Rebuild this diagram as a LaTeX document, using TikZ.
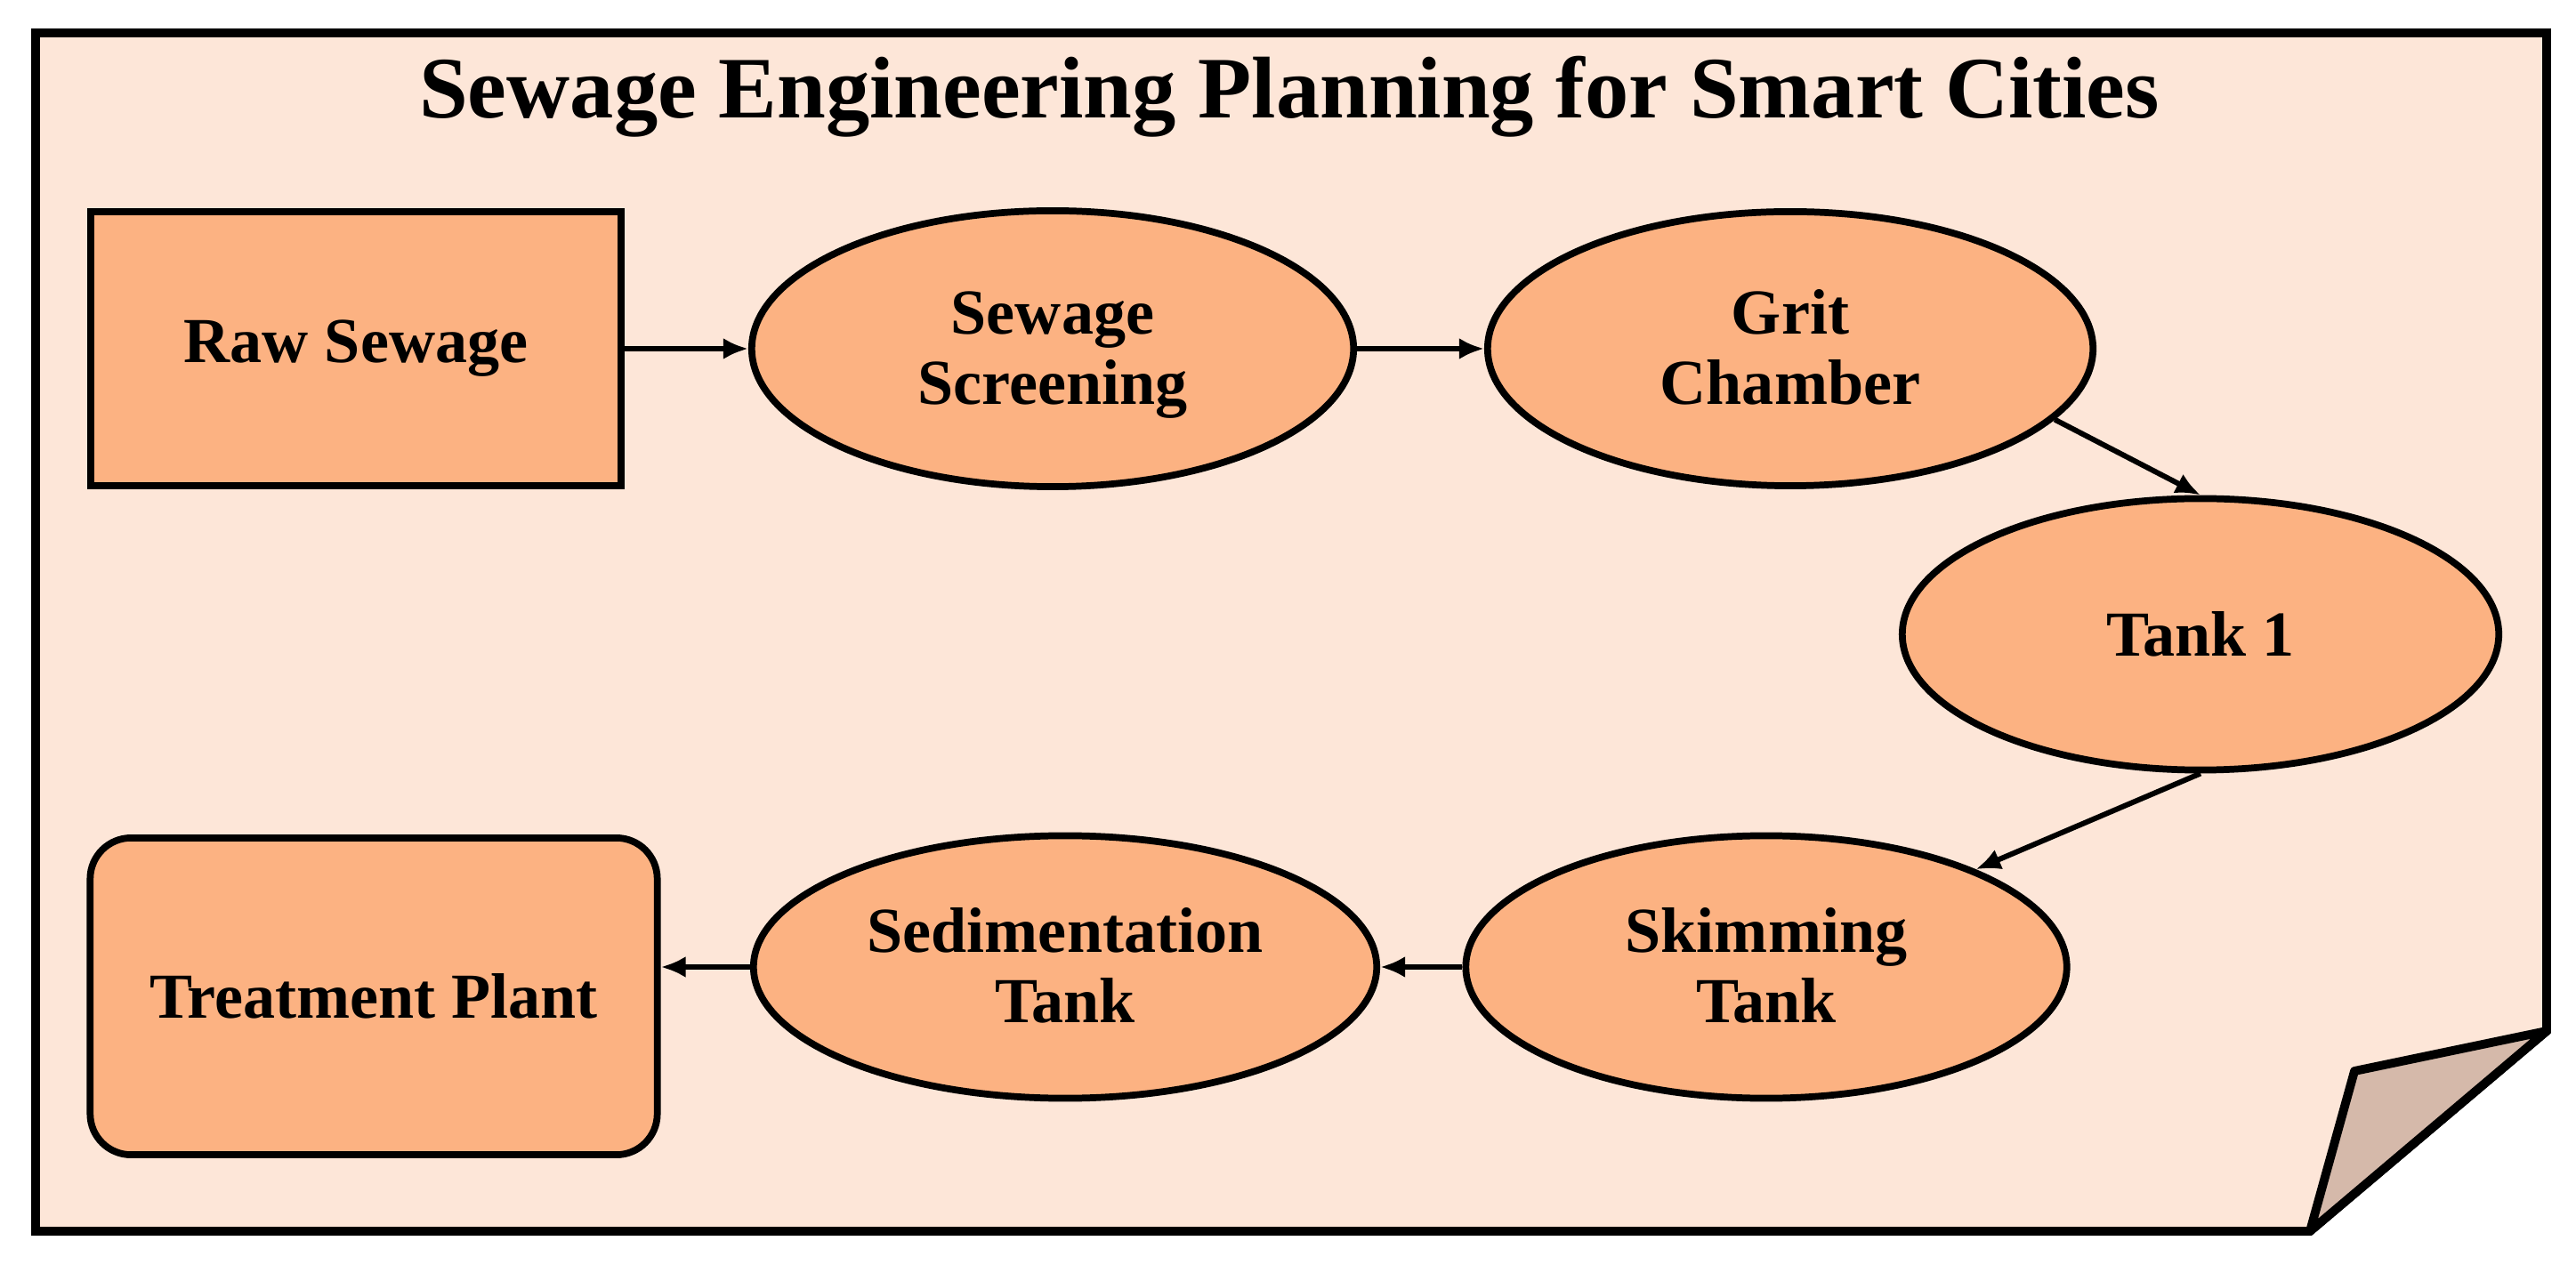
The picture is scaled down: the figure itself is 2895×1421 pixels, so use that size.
\documentclass[tikz,border=0pt]{standalone}
\usepackage{fontspec}
\setmainfont{Liberation Serif}
\usetikzlibrary{shapes.geometric,arrows.meta}
\definecolor{bgpeach}{RGB}{253,230,216}
\definecolor{nodepeach}{RGB}{252,178,130}
\definecolor{foldtan}{RGB}{213,185,170}
\newcommand\twolines[2]{\rule{0pt}{18.3pt}#1\\#2\rule[-5pt]{0pt}{5pt}}
\begin{document}
\begin{tikzpicture}[x=0.01cm,y=0.01cm,
  box/.style={draw=black,line width=2.2pt,fill=nodepeach,inner sep=0pt,align=center,
    font=\bfseries\fontsize{20.5}{22.5}\selectfont},
  oval/.style={box,ellipse},
  flow/.style={line width=1.7pt,-{Latex[length=0.28cm,width=0.24cm]}}]
\useasboundingbox (0,0) rectangle (2895,1421);
\fill[white] (0,0) rectangle (2895,1421);
% paper with folded corner
\draw[line width=2.8pt,fill=bgpeach] (40,1384) -- (2862,1384) -- (2862,262) -- (2596,37) -- (40,37) -- cycle;
\draw[line width=2.8pt,fill=foldtan,line join=round] (2862,262) -- (2646,217) -- (2596,37) -- cycle;
% title
\node[font=\bfseries\fontsize{28}{32}\selectfont] (title) at (1449,1312) {Sewage Engineering Planning for Smart Cities};
% nodes
\node[box,minimum width=5.96cm,minimum height=3.08cm] (raw) at (400,1029) {Raw Sewage};
\node[oval,minimum width=6.76cm,minimum height=3.10cm] (scr) at (1183,1029) {\twolines{Sewage}{Screening}};
\node[oval,minimum width=6.80cm,minimum height=3.08cm] (grit) at (2012,1029) {\twolines{Grit}{Chamber}};
\node[oval,minimum width=6.70cm,minimum height=3.05cm] (tank) at (2473,708) {Tank 1};
\node[oval,minimum width=6.75cm,minimum height=2.95cm] (skim) at (1985,334) {\twolines{Skimming}{Tank}};
\node[oval,minimum width=7.00cm,minimum height=2.95cm] (sed) at (1197,334) {\twolines{Sedimentation}{Tank}};
\node[box,rounded corners=0.46cm,minimum width=6.37cm,minimum height=3.56cm] (tp) at (420,301) {Treatment Plant};
% connectors
\draw[flow] (raw.east) -- (scr.west);
\draw[flow] (scr.east) -- (grit.west);
\draw[flow] (grit.-15) -- (tank.north);
\draw[flow] (tank.south) -- (skim.25);
\draw[flow] (skim.west) -- (sed.east);
\draw[flow] (sed.west) -- (sed.west -| tp.east);
\end{tikzpicture}
\end{document}
